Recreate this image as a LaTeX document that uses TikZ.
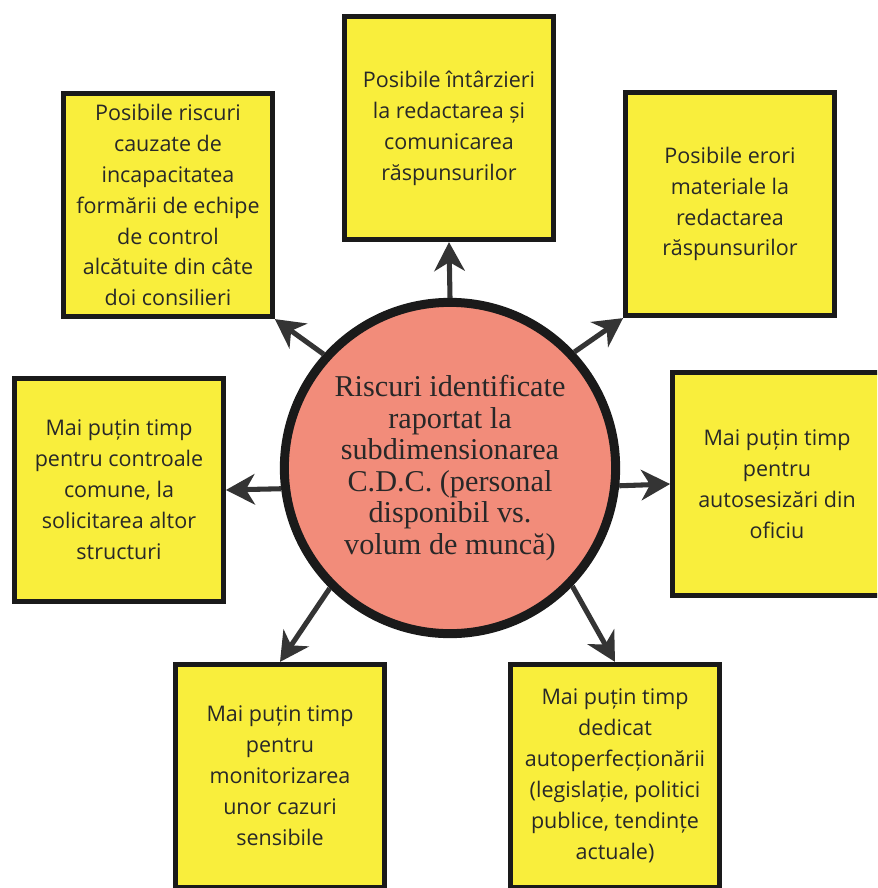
\documentclass[tikz,border=0pt]{standalone}
\usepackage{fontspec}
\setmainfont{Liberation Serif}
\newfontfamily\boxfont{Open Sans}
\usetikzlibrary{arrows.meta}

\begin{document}
\begin{tikzpicture}[x=0.025cm,y=-0.025cm,
  riskbox/.style={draw=Cedge,fill=Cbox,line width=3.5pt,
    minimum width=5.22cm,minimum height=5.58cm,inner sep=0pt,
    align=center,text=Ctxt,font=\boxfont\fontsize{15.3}{22}\selectfont},
  hub/.style={circle,draw=Cedge,fill=Chub,line width=6.4pt,
    minimum size=8.28cm,inner sep=0pt,align=center,text=Ctxt,
    font=\fontsize{21.5}{22.4}\selectfont},
  arrow/.style={draw=Carr,line width=3.6pt,
    -{Stealth[length=7.2mm,width=7.6mm,inset=2.2mm]}}]

% Canvas: 877 x 888 px, one unit = one pixel, y axis points down.

% ── Colours ──────────────────────────────────────────────────────────────────
\definecolor{Cbox}{RGB}{249,238,60}    % yellow boxes
\definecolor{Chub}{RGB}{242,140,122}   % salmon centre
\definecolor{Cedge}{RGB}{26,26,26}     % outlines
\definecolor{Carr}{RGB}{52,52,52}      % connectors
\definecolor{Ctxt}{RGB}{40,40,40}      % text

\useasboundingbox (0,0) rectangle (877,888);
\clip (0,0) rectangle (877,888);

% ── Centre ───────────────────────────────────────────────────────────────────
\node[hub] (hub) at (450,468)
  {Riscuri identificate\\raportat la\\subdimensionarea\\C.D.C. (personal\\disponibil vs.\\volum de muncă)};

% ── Risk boxes (clockwise from the top) ──────────────────────────────────────
\node[riskbox] (bTop) at (449,128)
  {Posibile întârzieri\\la redactarea și\\comunicarea\\răspunsurilor};
\node[riskbox] (bUpRight) at (730,204)
  {Posibile erori\\materiale la\\redactarea\\răspunsurilor};
\node[riskbox] (bRight) at (777,484)
  {Mai puțin timp\\pentru\\autosesizări din\\oficiu};
\node[riskbox] (bDownRight) at (615,776)
  {Mai puțin timp\\dedicat\\autoperfecționării\\(legislație, politici\\publice, tendințe\\actuale)};
\node[riskbox] (bDownLeft) at (280,776)
  {Mai puțin timp\\pentru\\monitorizarea\\unor cazuri\\sensibile};
\node[riskbox] (bLeft) at (119,490)
  {Mai puțin timp\\pentru controale\\comune, la\\solicitarea altor\\structuri};
\node[riskbox] (bUpLeft) at (168,205)
  {Posibile riscuri\\cauzate de\\incapacitatea\\formării de echipe\\de control\\alcătuite din câte\\doi consilieri};

% ── Connectors ───────────────────────────────────────────────────────────────
\foreach \ang/\dst in {90/bTop.south, 43/bUpRight.south west, -6/bRight.west,
    -44/bDownRight.north, 225/bDownLeft.north, 187/bLeft.east,
    138/bUpLeft.south east}
  \draw[arrow] (hub.\ang) -- (\dst);

\end{tikzpicture}
\end{document}
